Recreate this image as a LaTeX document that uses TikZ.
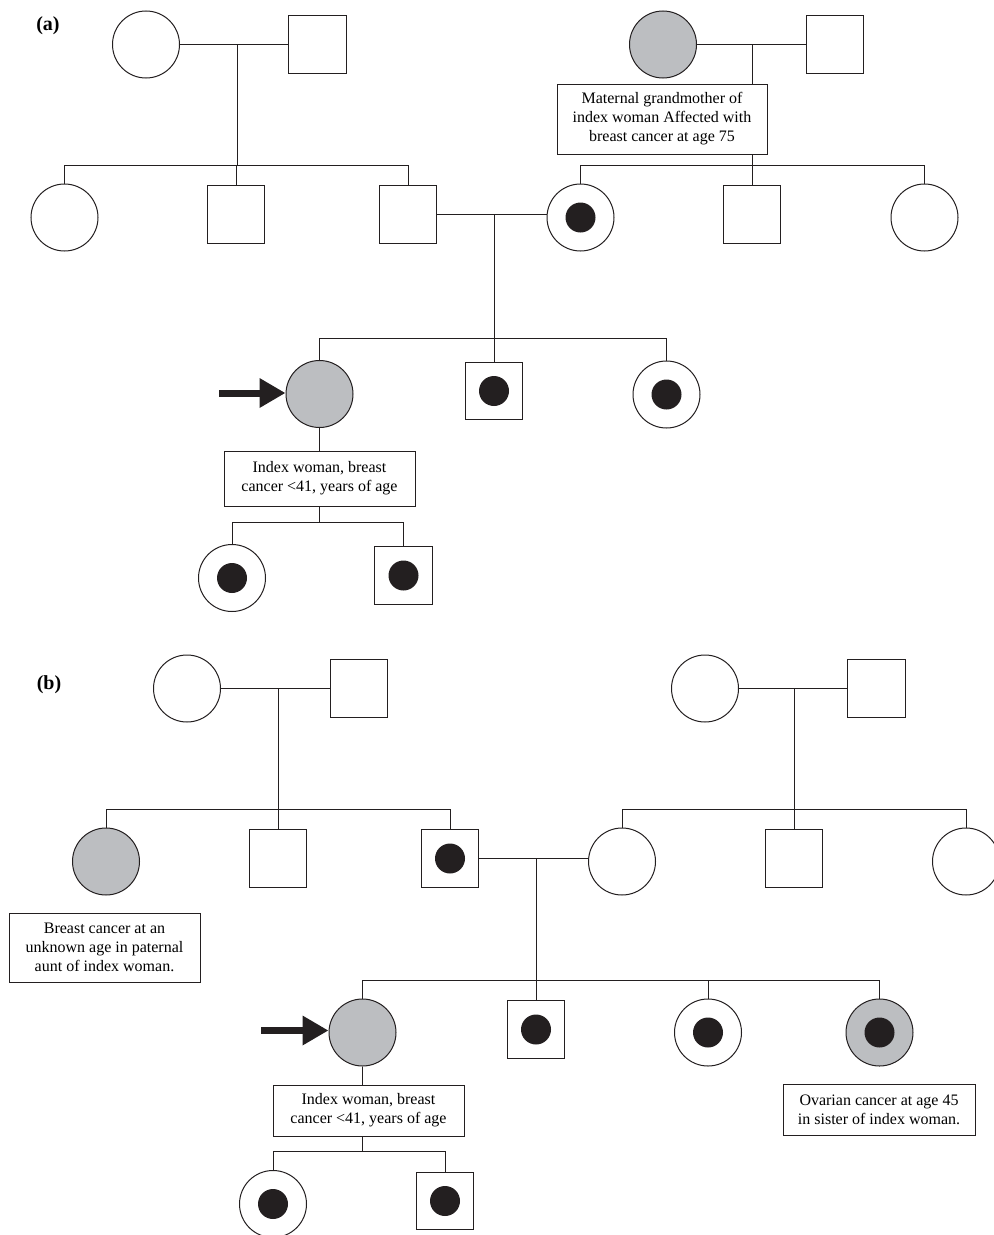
\documentclass[tikz,border=0pt]{standalone}
\usepackage{fontspec}
\setmainfont{Liberation Serif}
\usetikzlibrary{arrows.meta}
\definecolor{affgray}{RGB}{188,190,193}
\definecolor{ink}{RGB}{35,31,32}
\begin{document}
\begin{tikzpicture}[x=0.75pt,y=-0.75pt,line width=0.75pt,draw=ink,
  fem/.style={circle,draw=ink,minimum size=50.25pt,inner sep=0pt},
  mal/.style={rectangle,draw=ink,minimum size=43.1pt,inner sep=0pt},
  aff/.style={fill=affgray},
  carrier/.style={path picture={\fill[ink] (path picture bounding box.center) circle (11.25pt);}},
  note/.style={draw=ink,align=center,inner sep=0pt,font=\fontsize{12}{14.2}\selectfont},
  lab/.style={font=\fontsize{15}{18}\selectfont\bfseries},
  idxarrow/.style={-{Triangle[length=19.5pt,width=21pt]},line width=5.25pt,draw=ink}]
\useasboundingbox (0,0) rectangle (994,1235);
% ================= (a) =================
\node[lab] (la) at (48,26) {(a)};
\node[fem] (a1f) at (146,44.5) {};
\node[mal] (a1m) at (317.5,44.5) {};
\node[fem,aff] (a2f) at (663,44.5) {};
\node[mal] (a2m) at (835,44.5) {};
\node[note,minimum width=157.5pt,minimum height=52.5pt] (anote1) at (662,119)
  {Maternal grandmother of\\index woman Affected with\\breast cancer at age 75};
\node[fem] (ac1) at (64.5,217.5) {};
\node[mal] (ac2) at (236,214.5) {};
\node[mal] (afa) at (408,214.5) {};
\node[fem,carrier] (amo) at (580.5,217.5) {};
\node[mal] (ac5) at (752,214.5) {};
\node[fem] (ac6) at (924.5,217.5) {};
\coordinate (am1) at (237,44.5);
\coordinate (as1) at (237,165);
\draw (a1f) -- (a1m);
\draw (am1) -- (as1);
\draw (ac1.north) -- (ac1.north |- as1) -- (afa.north |- as1) -- (afa.north);
\draw (ac2.north) -- (ac2.north |- as1);
\coordinate (am2) at (752,44.5);
\coordinate (as2) at (752,165);
\draw (a2f) -- (a2m);
\draw (am2) -- (am2 |- anote1.north);
\draw (am2 |- anote1.south) -- (ac5.north);
\draw (amo.north) -- (amo.north |- as2) -- (ac6.north |- as2) -- (ac6.north);
% parents
\coordinate (am3) at (494,214.5);
\coordinate (as3) at (494,338);
\draw (afa.east) -- (afa.east -| amo.west);
\draw (am3) -- (as3);
\node[fem,aff] (aidx) at (319.5,394) {};
\node[mal,carrier] (abr) at (494,391) {};
\node[fem,carrier] (asis) at (666.5,394.5) {};
\draw (aidx.north) -- (aidx.north |- as3) -- (asis.north |- as3) -- (asis.north);
\draw (abr.north) -- (abr.north |- as3);
\coordinate (aarr) at (219,393);
\draw[idxarrow] (aarr) -- (aarr -| aidx.west);
\node[note,minimum width=143.25pt,minimum height=41.25pt] (anote2) at (319.5,478.5)
  {Index woman, breast\\cancer <41, years of age};
\draw (aidx.south) -- (aidx.south |- anote2.north);
\coordinate (as4) at (319.5,522);
\draw (anote2.south) -- (as4);
\node[fem,carrier] (ad1) at (232,578) {};
\node[mal,carrier] (ad2) at (403.5,575.5) {};
\draw (ad1.north) -- (ad1.north |- as4) -- (ad2.north |- as4) -- (ad2.north);
% ================= (b) =================
\node[lab] (lb) at (49,685) {(b)};
\node[fem] (bpf) at (187,688.5) {};
\node[mal] (bpm) at (359,688.5) {};
\coordinate (bm1) at (278,688.5);
\coordinate (bs1) at (278,809);
\draw (bpf) -- (bpm);
\draw (bm1) -- (bs1);
\node[fem,aff] (baunt) at (106,861.5) {};
\node[mal] (bunc) at (278,858.5) {};
\node[mal,carrier] (bfa) at (450,858.5) {};
\draw (baunt.north) -- (baunt.north |- bs1) -- (bfa.north |- bs1) -- (bfa.north);
\draw (bunc.north) -- (bunc.north |- bs1);
\node[note,minimum width=143.25pt,minimum height=51.75pt] (bnote1) at (104.5,947.5)
  {Breast cancer at an\\unknown age in paternal\\aunt of index woman.};
\node[fem] (bmf) at (705,688.5) {};
\node[mal] (bmm) at (876.5,688.5) {};
\coordinate (bm2) at (794,688.5);
\coordinate (bs2) at (794,809);
\draw (bmf) -- (bmm);
\draw (bm2) -- (bs2);
\node[fem] (bmo) at (622,861.5) {};
\node[mal] (bu2) at (794,858.5) {};
\node[fem] (ba2) at (966,861.5) {};
\draw (bmo.north) -- (bmo.north |- bs2) -- (ba2.north |- bs2) -- (ba2.north);
\draw (bu2.north) -- (bu2.north |- bs2);
% parents
\coordinate (bm3) at (536,858.5);
\coordinate (bs3) at (536,980);
\draw (bfa.east) -- (bfa.east -| bmo.west);
\draw (bm3) -- (bs3);
\node[fem,aff] (bidx) at (362.5,1032.5) {};
\node[mal,carrier] (bb2) at (536,1029.5) {};
\node[fem,carrier] (bsc) at (708,1032.5) {};
\node[fem,aff,carrier] (bov) at (879.5,1032.5) {};
\draw (bidx.north) -- (bidx.north |- bs3) -- (bov.north |- bs3) -- (bov.north);
\draw (bb2.north) -- (bb2.north |- bs3);
\draw (bsc.north) -- (bsc.north |- bs3);
\coordinate (barr) at (261,1030.5);
\draw[idxarrow] (barr) -- (barr -| bidx.west);
\node[note,minimum width=143.25pt,minimum height=38.25pt] (bnote2) at (368.5,1110.5)
  {Index woman, breast\\cancer <41, years of age};
\draw (bidx.south) -- (bidx.south |- bnote2.north);
\coordinate (bs4) at (362.5,1151);
\draw (bidx.south |- bnote2.south) -- (bs4);
\node[fem,carrier] (be1) at (273,1204) {};
\node[mal,carrier] (be2) at (445,1201) {};
\draw (be1.north) -- (be1.north |- bs4) -- (be2.north |- bs4) -- (be2.north);
\node[note,minimum width=144pt,minimum height=38.25pt] (bnote3) at (879,1109.5)
  {Ovarian cancer at age 45\\in sister of index woman.};
\end{tikzpicture}
\end{document}
